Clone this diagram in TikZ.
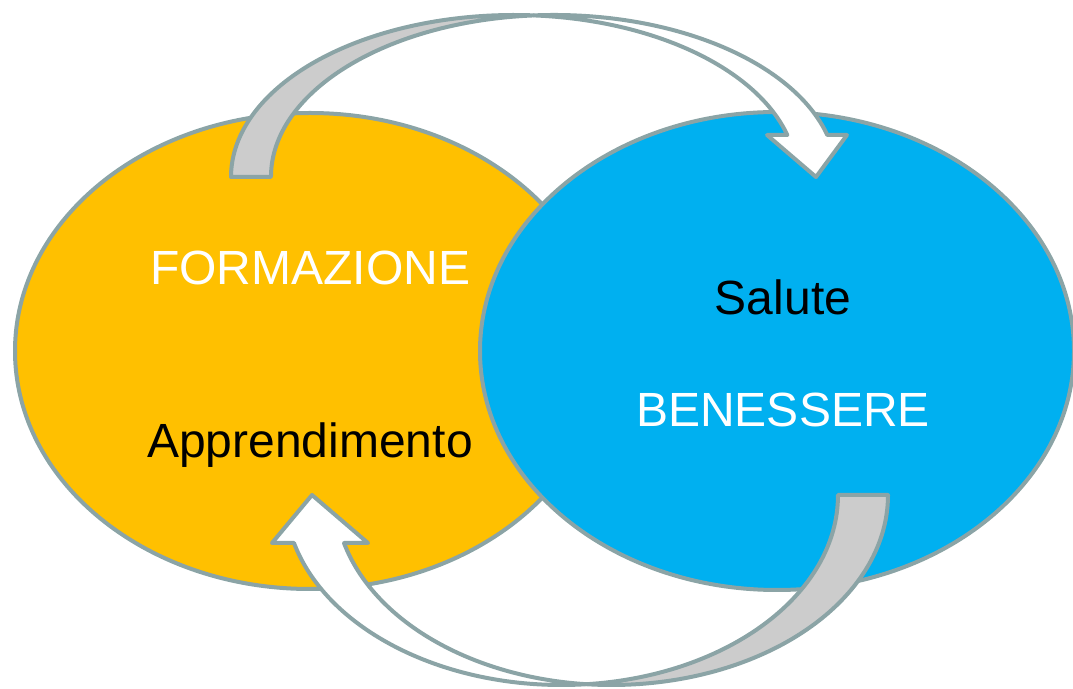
\documentclass[tikz,border=0pt]{standalone}
\usepackage{fontspec}
\setmainfont{Liberation Sans}
\usetikzlibrary{shapes.geometric}
\definecolor{edgec}{RGB}{139,164,166}
\definecolor{yel}{RGB}{255,192,0}
\definecolor{blu}{RGB}{0,176,240}
\definecolor{backc}{RGB}{204,204,204}
\begin{document}
\begin{tikzpicture}[x=1pt,y=1pt,
  outl/.style={draw=edgec, line width=4pt, line join=round},
  lbl/.style={font=\fontsize{48}{57}\selectfont, anchor=base, inner sep=0pt},
  oval/.style={ellipse, outl, inner sep=0pt}]
\useasboundingbox (0,0) rectangle (1073,688);
% circles
\node[oval, fill=yel, minimum width=590pt, minimum height=476pt] (form) at (310,337) {};
\node[oval, fill=blu, minimum width=594pt, minimum height=478pt] (ben) at (777,337) {};
% top curved arrow
\draw[outl, fill=backc] (231,511)
  arc[start angle=180, end angle=85.95, x radius=283, y radius=162]
  arc[start angle=94.05, end angle=180, x radius=283, y radius=162] -- cycle;
\draw[outl, fill=white] (534,672.6)
  arc[start angle=94.05, end angle=15.03, x radius=283, y radius=162]
  -- (847,553) -- (816,511) -- (767,553) -- (787.3,553)
  arc[start angle=15.03, end angle=85.95, x radius=283, y radius=162] -- cycle;
% bottom curved arrow
\draw[outl, fill=backc] (888,193)
  arc[start angle=0, end angle=-95.19, x radius=276.5, y radius=190]
  arc[start angle=-84.81, end angle=0, x radius=276.5, y radius=190] -- cycle;
\draw[outl, fill=white] (586.5,3.8)
  arc[start angle=-84.81, end angle=-165.37, x radius=276.5, y radius=190]
  -- (272,145) -- (312,193) -- (368,145) -- (344,145)
  arc[start angle=-165.37, end angle=-95.19, x radius=276.5, y radius=190] -- cycle;
% labels
\node[lbl, text=white] (t1) at (310,403) {FORMAZIONE};
\node[lbl] (t2) at (310,230) {Apprendimento};
\node[lbl] (t3) at (783,373) {Salute};
\node[lbl, text=white] (t4) at (783,261) {BENESSERE};
\end{tikzpicture}
\end{document}
